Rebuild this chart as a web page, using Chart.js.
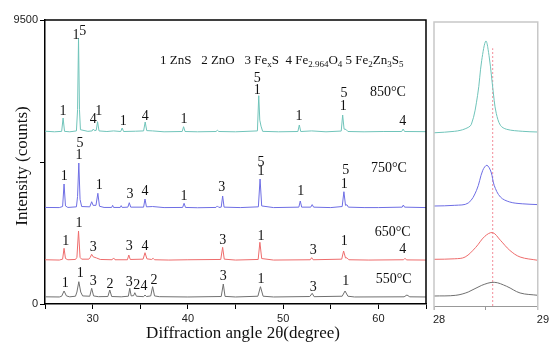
<!DOCTYPE html>
<html>
<head>
<meta charset="utf-8">
<script src="https://cdn.jsdelivr.net/npm/chart.js@4.4.1/dist/chart.umd.min.js"></script>
<style>
html,body{margin:0;padding:0;background:#fff;}
#wrap{position:relative;width:553px;height:342px;overflow:hidden;}
#main{position:absolute;left:0;top:0;}
#zoom{position:absolute;left:430px;top:0;}
</style>
</head>
<body>
<div id="wrap">
<canvas id="main" width="430" height="342"></canvas>
<canvas id="zoom" width="123" height="342"></canvas>
</div>
<script>
// ---------- data: [2θ (deg), intensity (counts)] ----------
const xTicks = [25, 30, 35, 40, 45, 50, 55, 60, 65];
const xTickLabels = [30, 40, 50, 60];
const yTicks = [0, 4750, 9500];
const yTickLabels = [0, 9500];
const zoomTicks = [28, 28.5, 29];
const zoomTickLabels = [28, 29];

const temps = ['850°C', '750°C', '650°C', '550°C'];
const colors = ['rgb(112,196,186)', 'rgb(110,110,228)', 'rgb(238,108,108)', 'rgb(112,112,112)'];

const xrd850 = [[25,5780],[26.0,5760],[26.75,5775],[26.9,6222],[27.05,5775],[27.6,5760],[28.3,5790],[28.42,6500],[28.52,8898],[28.62,6500],[28.72,5830],[29.5,5775],[29.95,5790],[30.07,5853],[30.2,5800],[30.38,5810],[30.52,6098],[30.67,5790],[31.5,5770],[32.2,5790],[32.95,5770],[33.1,5887],[33.25,5770],[34.5,5780],[35.35,5790],[35.52,6088],[35.68,5800],[36.3,5790],[37.5,5760],[39.4,5770],[39.55,5931],[39.7,5770],[41,5760],[42.95,5770],[43.1,5810],[43.25,5770],[45,5760],[47.3,5790],[47.44,6968],[47.55,6150],[47.68,5950],[47.85,5775],[49.5,5760],[51.55,5770],[51.7,5988],[51.85,5770],[53.0,5790],[54.5,5760],[56.1,5785],[56.25,6322],[56.4,5850],[56.6,5840],[56.8,5770],[58.5,5760],[60.5,5770],[62.45,5770],[62.6,5853],[62.75,5770],[65,5765]];
const xrd750 = [[25,3230],[26.5,3225],[26.85,3260],[27.0,4014],[27.15,3280],[27.4,3230],[28.3,3250],[28.42,3600],[28.55,4716],[28.68,3500],[28.85,3260],[29.7,3250],[29.9,3421],[30.05,3300],[30.35,3300],[30.55,3703],[30.72,3270],[31.2,3230],[32.0,3230],[32.1,3300],[32.2,3230],[32.9,3230],[33.0,3290],[33.1,3230],[33.7,3240],[33.85,3388],[34.0,3240],[35.35,3240],[35.5,3512],[35.65,3250],[36.3,3260],[37.5,3225],[39.45,3230],[39.6,3368],[39.75,3230],[41,3220],[42.95,3230],[43.1,3280],[43.25,3230],[43.5,3240],[43.65,3613],[43.8,3240],[45.5,3225],[47.4,3250],[47.58,4181],[47.75,3280],[49,3225],[51.65,3240],[51.8,3445],[51.95,3240],[52.9,3240],[53.05,3325],[53.2,3240],[55,3225],[56.2,3260],[56.38,3756],[56.55,3300],[56.7,3320],[56.85,3240],[58.5,3225],[60,3225],[62.5,3240],[62.62,3311],[62.75,3240],[65,3225]];
const xrd650 = [[25,1480],[26.5,1470],[26.85,1500],[27.0,1863],[27.15,1520],[27.4,1480],[28.2,1490],[28.35,1560],[28.52,2442],[28.68,1560],[28.85,1500],[29.6,1500],[29.75,1560],[29.9,1662],[30.05,1580],[30.4,1540],[30.8,1490],[32.05,1480],[32.2,1540],[32.35,1480],[33.65,1480],[33.8,1639],[33.95,1490],[35.3,1500],[35.5,1716],[35.7,1510],[36.2,1490],[36.35,1530],[36.5,1480],[38,1470],[40,1480],[43.45,1490],[43.65,1896],[43.82,1500],[45,1470],[47.38,1490],[47.56,2064],[47.75,1520],[49,1470],[52.85,1480],[53.0,1549],[53.15,1480],[56.15,1500],[56.35,1773],[56.55,1540],[56.7,1545],[56.9,1480],[59,1470],[62.65,1480],[62.8,1529],[62.95,1475],[65,1470]];
const xrd550 = [[25,240],[26.5,235],[26.75,260],[27.0,435],[27.25,270],[27.6,240],[28.2,260],[28.35,400],[28.55,746],[28.75,400],[28.95,270],[29.7,260],[29.9,525],[30.1,270],[30.6,245],[31.6,250],[31.8,468],[32.0,250],[33.0,240],[33.75,260],[33.9,525],[34.05,270],[34.3,280],[34.43,378],[34.6,260],[35.35,245],[35.5,301],[35.65,250],[36.1,270],[36.3,579],[36.5,270],[37,245],[40,235],[43.5,250],[43.72,669],[43.9,255],[45,235],[47.35,260],[47.62,579],[47.9,260],[49,235],[52.8,250],[53.05,358],[53.25,245],[56.2,260],[56.5,435],[56.8,260],[57.5,235],[62.7,240],[63.0,301],[63.3,240],[65,235]];

// detail of the ZnS (111) reflection, 28–29°
const zoom850 = [[28.00,5794],[28.20,5844],[28.30,5927],[28.36,6078],[28.42,7048],[28.46,8219],[28.50,8864],[28.53,8386],[28.555,7660],[28.58,6880],[28.60,6446],[28.64,6045],[28.70,5911],[28.85,5844],[29.00,5820]];
const zoom750 = [[28.00,3345],[28.20,3368],[28.33,3445],[28.41,3870],[28.47,4539],[28.51,4707],[28.55,4482],[28.58,4037],[28.64,3646],[28.73,3479],[28.85,3419],[29.00,3392]];
const zoom650 = [[28.00,1562],[28.20,1579],[28.30,1639],[28.40,1953],[28.49,2332],[28.565,2455],[28.64,2198],[28.73,1863],[28.83,1639],[29.00,1529]];
const zoom550 = [[28.00,334],[28.21,358],[28.33,468],[28.46,692],[28.58,793],[28.70,659],[28.83,435],[29.00,358]];
const refAngle = 28.565;
const refTop = 8620;

// peak assignment labels: [2θ, counts, label]
const peaks850 = [[26.9,6456,'1'],[28.25,8998,'1'],[28.96,9108,'5'],[30.07,6178,'4'],[30.64,6432,'1'],[33.22,6098,'1'],[35.53,6289,'4'],[39.6,6188,'1'],[47.29,7550,'5'],[47.29,7158,'1'],[51.67,6265,'1'],[56.39,7048,'5'],[56.3,6623,'1'],[62.55,6098,'4']];
const peaks750 = [[27.03,4282,'1'],[28.67,5375,'5'],[28.57,4984,'1'],[30.7,3981,'1'],[33.92,3680,'3'],[35.5,3756,'4'],[39.6,3613,'1'],[43.55,3890,'3'],[47.68,4726,'5'],[47.68,4425,'1'],[51.84,3780,'1'],[56.57,4482,'5'],[56.43,4014,'1']];
const peaks650 = [[27.17,2107,'1'],[28.57,2699,'1'],[30.07,1897,'3'],[33.85,1917,'3'],[35.5,1940,'4'],[43.66,2141,'3'],[47.68,2275,'1'],[53.17,1783,'3'],[56.43,2107,'1'],[62.55,1830,'4']];
const peaks550 = [[27.13,692,'1'],[28.7,1027,'1'],[30.07,746,'3'],[31.82,669,'2'],[33.85,712,'3'],[34.63,636,'2'],[35.4,579,'4'],[36.44,803,'2'],[43.72,913,'3'],[47.68,826,'1'],[53.17,559,'3'],[56.57,746,'1']];
const tempPos = [[61.0,7091],[61.1,4549],[61.5,2408],[61.6,836]];

// phase key, [text, isSubscript]
const phaseKey = [['1 ZnS   2 ZnO   3 Fe',0],['x',1],['S  4 Fe',0],['2.964',1],['O',0],['4',1],[' 5 Fe',0],['2',1],['Zn',0],['3',1],['S',0],['5',1]];

const xTitle = 'Diffraction angle 2θ(degree)';
const yTitle = 'Intensity (counts)';

// ---------- drawing ----------
const SERIF = '"Liberation Serif", "Times New Roman", serif';
const SANS = '"Liberation Sans", Arial, sans-serif';
const toXY = arr => arr.map(p => ({x: p[0], y: p[1]}));

const mainSeries = [xrd850, xrd750, xrd650, xrd550];
const zoomSeries = [zoom850, zoom750, zoom650, zoom550];
const peakSets = [peaks850, peaks750, peaks650, peaks550];

const mainText = {
  id: 'mainText',
  afterDatasetsDraw(chart) {
    const {ctx, chartArea: a, scales: {x, y}} = chart;
    ctx.save();
    ctx.strokeStyle = '#000';
    ctx.lineWidth = 1.5;
    ctx.beginPath();
    ctx.moveTo(a.left, a.top); ctx.lineTo(a.right, a.top); ctx.lineTo(a.right, a.bottom);
    ctx.stroke();
    ctx.fillStyle = '#111';
    ctx.textAlign = 'center';
    ctx.textBaseline = 'middle';
    ctx.font = '14px ' + SERIF;
    peakSets.forEach(set => set.forEach(([ang, c, t]) => {
      ctx.fillText(t, x.getPixelForValue(ang), y.getPixelForValue(c));
    }));
    temps.forEach((t, i) => {
      ctx.fillText(t, x.getPixelForValue(tempPos[i][0]), y.getPixelForValue(tempPos[i][1]));
    });
    // phase key
    ctx.textAlign = 'left';
    ctx.textBaseline = 'alphabetic';
    let px = a.left + 115, base = a.top + 44;
    phaseKey.forEach(([t, sub]) => {
      ctx.font = (sub ? '9px ' : '13px ') + SERIF;
      ctx.fillText(t, px, sub ? base + 3 : base);
      px += ctx.measureText(t).width;
    });
    // axis titles
    ctx.textAlign = 'center';
    ctx.textBaseline = 'middle';
    ctx.font = '17px ' + SERIF;
    ctx.fillText(xTitle, 243, 334);
    ctx.translate(23, 166);
    ctx.rotate(-Math.PI / 2);
    ctx.fillText(yTitle, 0, 0);
    ctx.restore();
  }
};

new Chart(document.getElementById('main'), {
  type: 'line',
  data: {
    datasets: mainSeries.map((s, i) => ({
      label: temps[i], data: toXY(s), borderColor: colors[i], borderWidth: 1,
      pointRadius: 0, tension: 0, fill: false
    }))
  },
  options: {
    responsive: false, animation: false, events: [],
    layout: {padding: {top: 20, right: 4, left: 0, bottom: 0}},
    plugins: {legend: {display: false}, tooltip: {enabled: false}},
    scales: {
      x: {
        type: 'linear', min: 25, max: 65,
        afterBuildTicks: s => { s.ticks = xTicks.map(v => ({value: v})); },
        afterFit: s => { s.height = 38; },
        ticks: {autoSkip: false, maxRotation: 0, padding: 3, color: '#222',
          font: {family: SANS, size: 11},
          callback: v => xTickLabels.includes(v) ? String(v) : ''},
        grid: {drawOnChartArea: false, tickLength: 5, color: '#000', tickWidth: 1},
        border: {color: '#000', width: 1.5}
      },
      y: {
        type: 'linear', min: 0, max: 9500,
        afterBuildTicks: s => { s.ticks = yTicks.map(v => ({value: v})); },
        afterFit: s => { s.width = 45; },
        ticks: {autoSkip: false, padding: 2, color: '#222',
          font: {family: SANS, size: 11},
          callback: v => yTickLabels.includes(v) ? String(v) : ''},
        grid: {drawOnChartArea: false, tickLength: 5, color: '#000', tickWidth: 1},
        border: {color: '#000', width: 1.5}
      }
    }
  },
  plugins: [mainText]
});

const zoomFrame = {
  id: 'zoomFrame',
  afterDatasetsDraw(chart) {
    const {ctx, chartArea: a} = chart;
    ctx.save();
    ctx.strokeStyle = '#c8c8c8';
    ctx.lineWidth = 1.5;
    ctx.beginPath();
    ctx.moveTo(a.left, a.bottom + 4); ctx.lineTo(a.left, a.top); ctx.lineTo(a.right, a.top); ctx.lineTo(a.right, a.bottom + 4);
    ctx.stroke();
    ctx.restore();
  }
};

new Chart(document.getElementById('zoom'), {
  type: 'line',
  data: {
    datasets: zoomSeries.map((s, i) => ({
      label: temps[i], data: toXY(s), borderColor: colors[i], borderWidth: 1,
      pointRadius: 0, tension: 0.35, fill: false
    })).concat([{
      label: 'ref', data: [{x: refAngle, y: 0}, {x: refAngle, y: refTop}],
      borderColor: 'rgb(245,160,170)', borderWidth: 1.2, borderDash: [2, 2], pointRadius: 0
    }])
  },
  options: {
    responsive: false, animation: false, events: [],
    layout: {padding: {top: 22, right: 11, left: 0, bottom: 0}},
    plugins: {legend: {display: false}, tooltip: {enabled: false}},
    scales: {
      x: {
        type: 'linear', min: 28, max: 29,
        afterBuildTicks: s => { s.ticks = zoomTicks.map(v => ({value: v})); },
        afterFit: s => { s.height = 36; },
        ticks: {autoSkip: false, maxRotation: 0, padding: 3, align: 'start', labelOffset: -1, color: '#222',
          font: {family: SANS, size: 11},
          callback: v => zoomTickLabels.includes(v) ? String(v) : ''},
        grid: {drawOnChartArea: false, tickLength: 4, color: '#999'},
        border: {color: '#999', width: 1}
      },
      y: {
        type: 'linear', min: 0, max: 9500,
        afterFit: s => { s.width = 4; },
        ticks: {display: false},
        grid: {display: false},
        border: {display: false}
      }
    }
  },
  plugins: [zoomFrame]
});
</script>
</body>
</html>
